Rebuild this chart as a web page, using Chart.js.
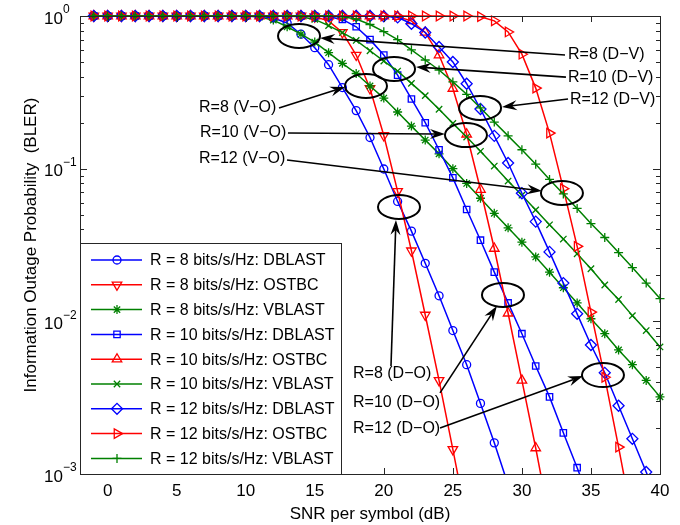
<!DOCTYPE html>
<html>
<head>
<meta charset="utf-8">
<title>Information outage probability vs SNR</title>
<script src="https://cdn.jsdelivr.net/npm/chart.js@4.4.1/dist/chart.umd.min.js"></script>
<style>
  body { margin: 0; background: #fff; }
  canvas { display: block; }
</style>
</head>
<body>
<canvas id="outage" width="680" height="525"></canvas>
<script>
// SNR per symbol (dB), one point per dB
var snr = [-1, 0, 1, 2, 3, 4, 5, 6, 7, 8, 9, 10, 11, 12, 13, 14, 15, 16, 17, 18, 19, 20,
           21, 22, 23, 24, 25, 26, 27, 28, 29, 30, 31, 32, 33, 34, 35, 36, 37, 38, 39, 40];

// outage probability (null = below 1e-3, not drawn)
var r8Dblast = [1, 1, 1, 1, 1, 1, 1, 1, 1, 1, 1, 1,
  0.995, 0.97, 0.90, 0.76, 0.62, 0.48, 0.34, 0.24, 0.16, 0.0995, 0.061, 0.039, 0.024, 0.0147,
  0.0087, 0.0052, 0.0029, 0.0016, 0.00085,
  null, null, null, null, null, null, null, null, null, null, null];
var r8Ostbc = [1, 1, 1, 1, 1, 1, 1, 1, 1, 1, 1, 1, 1, 1, 1, 1,
  0.99, 0.93, 0.78, 0.555, 0.335, 0.165, 0.071, 0.029, 0.011, 0.0041, 0.00145, 0.0005,
  null, null, null, null, null, null, null, null, null, null, null, null, null, null];
var r8Vblast = [1, 1, 1, 1, 1, 1, 1, 1, 1, 1, 1, 1,
  0.985, 0.94, 0.85, 0.76, 0.675, 0.575, 0.49, 0.42, 0.348, 0.29, 0.235, 0.19, 0.154, 0.125,
  0.1, 0.08, 0.064, 0.051, 0.041, 0.033, 0.0264, 0.021, 0.0166, 0.0132, 0.0104, 0.0083,
  0.0065, 0.0052, 0.0041, 0.0032];
var r10Dblast = [1, 1, 1, 1, 1, 1, 1, 1, 1, 1, 1, 1, 1, 1, 1, 1, 1,
  0.99, 0.95, 0.85, 0.70, 0.555, 0.41, 0.286, 0.20, 0.133, 0.087, 0.054, 0.034, 0.021,
  0.0132, 0.0083, 0.0051, 0.0032, 0.00186, 0.0011, 0.00063,
  null, null, null, null, null];
var r10Ostbc = [1, 1, 1, 1, 1, 1, 1, 1, 1, 1, 1, 1, 1, 1, 1, 1, 1, 1, 1, 1, 1, 1,
  0.99, 0.93, 0.78, 0.555, 0.335, 0.168, 0.073, 0.030, 0.0113, 0.0041, 0.00148, 0.0005,
  null, null, null, null, null, null, null, null];
var r10Vblast = [1, 1, 1, 1, 1, 1, 1, 1, 1, 1, 1, 1, 1, 1, 1,
  0.99, 0.95, 0.865, 0.778, 0.692, 0.592, 0.507, 0.436, 0.362, 0.301, 0.245, 0.198, 0.161,
  0.13, 0.104, 0.083, 0.067, 0.0537, 0.0429, 0.0346, 0.0277, 0.0221, 0.0173, 0.0139,
  0.0109, 0.0087, 0.0068];
var r12Dblast = [1, 1, 1, 1, 1, 1, 1, 1, 1, 1, 1, 1, 1, 1, 1, 1, 1, 1, 1, 1, 1,
  0.995, 0.98, 0.89, 0.78, 0.627, 0.50, 0.36, 0.246, 0.164, 0.109, 0.069, 0.045, 0.0285,
  0.0178, 0.0112, 0.0070, 0.0046, 0.0028, 0.0017, 0.00103, 0.00062];
var r12Ostbc = [1, 1, 1, 1, 1, 1, 1, 1, 1, 1, 1, 1, 1, 1, 1, 1, 1, 1, 1, 1, 1, 1, 1, 1, 1, 1, 1, 1,
  0.99, 0.93, 0.786, 0.562, 0.337, 0.171, 0.074, 0.031, 0.0115, 0.0043, 0.0015, 0.0005,
  null, null];
var r12Vblast = [1, 1, 1, 1, 1, 1, 1, 1, 1, 1, 1, 1, 1, 1, 1, 1, 1, 1,
  0.99, 0.955, 0.88, 0.79, 0.70, 0.60, 0.515, 0.443, 0.37, 0.307, 0.25, 0.202, 0.164,
  0.133, 0.107, 0.085, 0.0683, 0.0549, 0.0437, 0.0354, 0.0282, 0.0225, 0.0178, 0.0141];

var seriesNames = [
  'R = 8 bits/s/Hz: DBLAST', 'R = 8 bits/s/Hz: OSTBC', 'R = 8 bits/s/Hz: VBLAST',
  'R = 10 bits/s/Hz: DBLAST', 'R = 10 bits/s/Hz: OSTBC', 'R = 10 bits/s/Hz: VBLAST',
  'R = 12 bits/s/Hz: DBLAST', 'R = 12 bits/s/Hz: OSTBC', 'R = 12 bits/s/Hz: VBLAST'
];
var seriesValues = [r8Dblast, r8Ostbc, r8Vblast, r10Dblast, r10Ostbc, r10Vblast,
                    r12Dblast, r12Ostbc, r12Vblast];

// axis ticks
var xTicks = [0, 5, 10, 15, 20, 25, 30, 35, 40];
var yTicks = [1, 0.1, 0.01, 0.001];
var yTickExp = ['0', '\u22121', '\u22122', '\u22123'];

// MATLAB-ish marker per series
var BLUE = '#0000ff', RED = '#ff0000', GREEN = '#008000';
var looks = [
  { c: BLUE,  s: 'circle',   rot: 0,   r: 4 },
  { c: RED,   s: 'triangle', rot: 180, r: 5.5 },
  { c: GREEN, s: 'star',     rot: 0,   r: 4.5 },
  { c: BLUE,  s: 'rect',     rot: 0,   r: 4.5 },
  { c: RED,   s: 'triangle', rot: 0,   r: 5.5 },
  { c: GREEN, s: 'crossRot', rot: 0,   r: 4.5 },
  { c: BLUE,  s: 'rectRot',  rot: 0,   r: 5.5 },
  { c: RED,   s: 'triangle', rot: 90,  r: 5.5 },
  { c: GREEN, s: 'cross',    rot: 0,   r: 4.5 }
];

// annotations: label text, label anchor, arrow tail/tip, ellipse centre (data units)
var notes = [
  { t: 'R=8 (D\u2212V)',  lx: 33.34, ly: 0.555,  ax: 33.12, ay: 0.555,  bx: 15.38, by: 0.718,  ex: 13.86, ey: 0.74 },
  { t: 'R=10 (D\u2212V)', lx: 33.34, ly: 0.3926, ax: 33.19, ay: 0.398,  bx: 22.33, by: 0.4634, ex: 20.74, ey: 0.45 },
  { t: 'R=12 (D\u2212V)', lx: 33.48, ly: 0.2818, ax: 33.34, ay: 0.286,  bx: 28.56, by: 0.2535, ex: 26.97, ey: 0.25 },
  { t: 'R=8 (V\u2212O)',  lx: 6.62,  ly: 0.2496, ax: 12.41, ay: 0.2496, bx: 17.19, by: 0.3427, ex: 18.71, ey: 0.348 },
  { t: 'R=10 (V\u2212O)', lx: 6.69,  ly: 0.1713, ax: 13.06, ay: 0.1713, bx: 24.43, by: 0.1687, ex: 25.95, ey: 0.166 },
  { t: 'R=12 (V\u2212O)', lx: 6.62,  ly: 0.1157, ax: 12.99, ay: 0.114,  bx: 31.45, by: 0.0714, ex: 32.90, ey: 0.0693 },
  { t: 'R=8 (D\u2212O)',  lx: 17.77, ly: 0.00452, ax: 20.52, ay: 0.0051, bx: 20.88, by: 0.0461, ex: 21.10, ey: 0.0561 },
  { t: 'R=10 (D\u2212O)', lx: 17.77, ly: 0.00292, ax: 24.07, ay: 0.0034, bx: 28.19, by: 0.0126, ex: 28.63, ey: 0.0149 },
  { t: 'R=12 (D\u2212O)', lx: 17.77, ly: 0.00197, ax: 24.07, ay: 0.0020, bx: 34.42, by: 0.00438, ex: 35.87, ey: 0.00445 }
];

var FONT = '"Liberation Sans", Arial, Helvetica, sans-serif';

var datasets = seriesValues.map(function(vals, i) {
  var lk = looks[i];
  return {
    label: seriesNames[i],
    data: snr.map(function(x, j) { return { x: x, y: vals[j] }; }),
    borderColor: lk.c,
    borderWidth: 1.5,
    pointStyle: lk.s,
    pointRotation: lk.rot,
    pointRadius: lk.r,
    pointBorderColor: lk.c,
    pointBackgroundColor: 'rgba(0,0,0,0)',
    pointBorderWidth: 1.3,
    tension: 0,
    fill: false,
    spanGaps: false,
    order: seriesValues.length - i,
    clip: { left: 10, top: 10, right: 10, bottom: 0 }
  };
});

function drawArrow(ctx, x0, y0, x1, y1) {
  var ang = Math.atan2(y1 - y0, x1 - x0);
  var len = 15, half = 5, notch = 10;
  ctx.beginPath();
  ctx.moveTo(x0, y0);
  ctx.lineTo(x1 - Math.cos(ang) * notch, y1 - Math.sin(ang) * notch);
  ctx.stroke();
  ctx.save();
  ctx.translate(x1, y1);
  ctx.rotate(ang);
  ctx.beginPath();
  ctx.moveTo(0, 0);
  ctx.lineTo(-len, -half);
  ctx.lineTo(-notch, 0);
  ctx.lineTo(-len, half);
  ctx.closePath();
  ctx.fill();
  ctx.restore();
}

var matlabLook = {
  id: 'matlabLook',
  afterDatasetsDraw: function(chart) {
    var ctx = chart.ctx, a = chart.chartArea;
    var xs = chart.scales.x, ys = chart.scales.y;
    ctx.save();

    // annotations
    ctx.strokeStyle = '#000';
    ctx.fillStyle = '#000';
    notes.forEach(function(n) {
      ctx.lineWidth = 2;
      ctx.beginPath();
      ctx.ellipse(xs.getPixelForValue(n.ex), ys.getPixelForValue(n.ey), 21, 12, 0, 0, Math.PI * 2);
      ctx.stroke();
      ctx.lineWidth = 1.6;
      drawArrow(ctx, xs.getPixelForValue(n.ax), ys.getPixelForValue(n.ay),
                xs.getPixelForValue(n.bx), ys.getPixelForValue(n.by));
      ctx.font = '16px ' + FONT;
      ctx.textAlign = 'left';
      ctx.textBaseline = 'middle';
      ctx.fillText(n.t, xs.getPixelForValue(n.lx), ys.getPixelForValue(n.ly));
    });

    // box + inward ticks
    ctx.strokeStyle = '#262626';
    ctx.lineWidth = 1;
    ctx.strokeRect(a.left + 0.5, a.top + 0.5, a.right - a.left, a.bottom - a.top);
    ctx.beginPath();
    xTicks.forEach(function(v) {
      var px = Math.round(xs.getPixelForValue(v)) + 0.5;
      ctx.moveTo(px, a.bottom); ctx.lineTo(px, a.bottom - 6);
      ctx.moveTo(px, a.top); ctx.lineTo(px, a.top + 6);
    });
    yTicks.forEach(function(v, k) {
      var py = Math.round(ys.getPixelForValue(v)) + 0.5;
      ctx.moveTo(a.left, py); ctx.lineTo(a.left + 7, py);
      ctx.moveTo(a.right, py); ctx.lineTo(a.right - 7, py);
      if (k < yTicks.length - 1) {
        for (var m = 2; m <= 9; m++) {
          var pm = Math.round(ys.getPixelForValue(v * m / 10)) + 0.5;
          ctx.moveTo(a.left, pm); ctx.lineTo(a.left + 4, pm);
          ctx.moveTo(a.right, pm); ctx.lineTo(a.right - 4, pm);
        }
      }
    });
    ctx.stroke();

    // tick labels
    ctx.fillStyle = '#000';
    ctx.font = '17px ' + FONT;
    ctx.textAlign = 'center';
    ctx.textBaseline = 'middle';
    xTicks.forEach(function(v) {
      ctx.fillText(String(v), xs.getPixelForValue(v), a.bottom + 17);
    });
    yTicks.forEach(function(v, k) {
      var py = ys.getPixelForValue(v);
      ctx.font = '17px ' + FONT;
      ctx.textAlign = 'right';
      ctx.fillText('10', a.left - 17, py + 3);
      ctx.font = '12px ' + FONT;
      ctx.textAlign = 'left';
      ctx.fillText(yTickExp[k], a.left - 17, py - 6);
    });

    // axis titles
    ctx.font = '17px ' + FONT;
    ctx.textAlign = 'center';
    ctx.fillText('SNR per symbol (dB)', (a.left + a.right) / 2, a.bottom + 40);
    ctx.save();
    ctx.translate(31, (a.top + a.bottom) / 2);
    ctx.rotate(-Math.PI / 2);
    ctx.fillText('Information Outage Probability  (BLER)', 0, 0);
    ctx.restore();

    // legend box, bottom-left inside the axes
    var lw = 261, lh = 231;
    var lx = a.left, ly = a.bottom - lh;
    ctx.fillStyle = '#fff';
    ctx.fillRect(lx, ly, lw, lh);
    ctx.strokeStyle = '#262626';
    ctx.lineWidth = 1;
    ctx.strokeRect(lx + 0.5, ly + 0.5, lw, lh);
    ctx.font = '16px ' + FONT;
    ctx.textAlign = 'left';
    ctx.textBaseline = 'middle';
    chart.data.datasets.forEach(function(ds, i) {
      var ry = ly + 17 + i * 24.8;
      ctx.strokeStyle = ds.borderColor;
      ctx.lineWidth = 1.5;
      ctx.beginPath();
      ctx.moveTo(lx + 11, ry); ctx.lineTo(lx + 62, ry);
      ctx.stroke();
      ctx.fillStyle = 'rgba(0,0,0,0)';
      ctx.lineWidth = 1.3;
      Chart.helpers.drawPoint(ctx, {
        pointStyle: ds.pointStyle, rotation: ds.pointRotation,
        radius: ds.pointRadius, borderWidth: 1.3
      }, lx + 37, ry);
      ctx.fillStyle = '#000';
      ctx.fillText(ds.label, lx + 70, ry + 1);
    });

    ctx.restore();
  }
};

var chart = new Chart(document.getElementById('outage'), {
  type: 'line',
  data: { datasets: datasets },
  options: {
    responsive: false,
    animation: false,
    events: [],
    layout: { padding: { left: 80, right: 20, top: 16, bottom: 51 } },
    plugins: { legend: { display: false }, tooltip: { enabled: false } },
    scales: {
      x: { type: 'linear', min: -2, max: 40, display: false },
      y: { type: 'logarithmic', min: 0.001, max: 1, display: false }
    }
  },
  plugins: [matlabLook]
});
</script>
</body>
</html>
